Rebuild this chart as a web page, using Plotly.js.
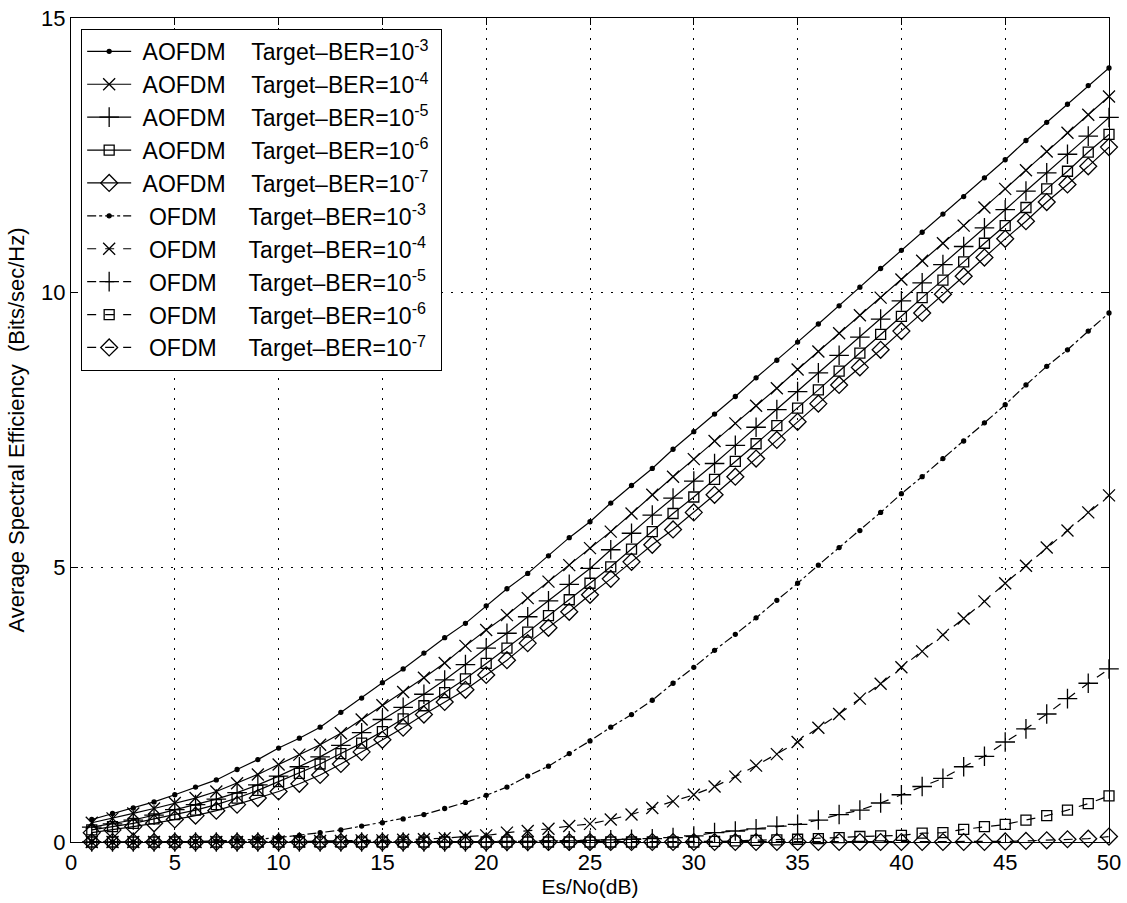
<!DOCTYPE html>
<html>
<head>
<meta charset="utf-8">
<script src="https://cdn.plot.ly/plotly-3.0.1.min.js"></script>
<style>html,body{margin:0;padding:0;background:#fff;}</style>
</head>
<body>
<div id="chart" style="width:1127px;height:903px;"></div>
<script>
const esno = [1,2,3,4,5,6,7,8,9,10,11,12,13,14,15,16,17,18,19,20,21,22,23,24,25,26,27,28,29,30,31,32,33,34,35,36,37,38,39,40,41,42,43,44,45,46,47,48,49,50];

const aofdm3 = [0.41,0.52,0.62,0.73,0.86,1.00,1.13,1.32,1.50,1.71,1.89,2.09,2.36,2.62,2.90,3.15,3.44,3.72,3.98,4.30,4.61,4.89,5.21,5.54,5.83,6.17,6.49,6.80,7.15,7.47,7.79,8.11,8.45,8.77,9.10,9.43,9.76,10.10,10.44,10.77,11.10,11.43,11.75,12.09,12.42,12.77,13.10,13.43,13.77,14.09];
const aofdm4 = [0.35,0.43,0.52,0.61,0.71,0.80,0.92,1.07,1.23,1.41,1.59,1.77,1.98,2.23,2.49,2.73,2.99,3.26,3.57,3.86,4.13,4.44,4.74,5.04,5.35,5.65,5.98,6.32,6.65,6.97,7.30,7.62,7.94,8.26,8.60,8.93,9.26,9.59,9.91,10.24,10.58,10.90,11.22,11.55,11.89,12.23,12.57,12.91,13.24,13.57];
const aofdm5 = [0.27,0.33,0.40,0.49,0.59,0.68,0.78,0.90,1.04,1.20,1.37,1.55,1.76,1.99,2.23,2.45,2.69,2.95,3.23,3.53,3.80,4.10,4.39,4.69,4.98,5.32,5.62,5.95,6.26,6.57,6.89,7.22,7.55,7.87,8.20,8.54,8.86,9.19,9.52,9.85,10.18,10.51,10.84,11.18,11.51,11.85,12.18,12.52,12.85,13.19];
const aofdm6 = [0.22,0.28,0.34,0.42,0.50,0.58,0.68,0.80,0.94,1.10,1.25,1.42,1.61,1.80,2.01,2.24,2.48,2.72,2.97,3.25,3.53,3.82,4.12,4.41,4.71,5.01,5.33,5.65,5.98,6.28,6.60,6.93,7.25,7.58,7.90,8.23,8.57,8.90,9.24,9.57,9.91,10.23,10.56,10.90,11.22,11.55,11.89,12.21,12.56,12.88];
const aofdm7 = [0.17,0.22,0.28,0.34,0.41,0.48,0.57,0.68,0.80,0.92,1.06,1.22,1.42,1.64,1.86,2.08,2.32,2.55,2.77,3.04,3.31,3.62,3.90,4.19,4.50,4.79,5.10,5.41,5.69,6.00,6.32,6.65,6.98,7.32,7.65,7.98,8.32,8.64,8.96,9.30,9.63,9.97,10.30,10.64,10.98,11.30,11.65,11.97,12.30,12.65];

const ofdm3 = [0,0,0,0,0.01,0.01,0.02,0.03,0.05,0.08,0.12,0.17,0.22,0.29,0.35,0.42,0.50,0.61,0.72,0.85,1.00,1.20,1.38,1.61,1.84,2.09,2.32,2.58,2.89,3.18,3.49,3.78,4.08,4.40,4.71,5.04,5.36,5.67,6.00,6.34,6.65,6.98,7.30,7.63,7.96,8.32,8.66,8.96,9.30,9.63];
const ofdm4 = [0,0,0,0,0,0,0,0,0.01,0.01,0.01,0.02,0.02,0.03,0.03,0.04,0.05,0.07,0.10,0.12,0.17,0.20,0.24,0.29,0.33,0.41,0.50,0.62,0.74,0.86,1.01,1.19,1.39,1.60,1.82,2.08,2.33,2.61,2.88,3.18,3.47,3.77,4.07,4.38,4.71,5.03,5.36,5.67,6.00,6.31];
const ofdm5 = [0,0,0,0,0,0,0,0,0,0,0,0,0,0,0,0,0,0,0,0,0.01,0.01,0.02,0.02,0.03,0.04,0.05,0.06,0.08,0.11,0.17,0.20,0.24,0.29,0.32,0.40,0.50,0.58,0.71,0.86,1.01,1.16,1.37,1.56,1.82,2.06,2.33,2.61,2.89,3.15];
const ofdm6 = [0,0,0,0,0,0,0,0,0,0,0,0,0,0,0,0,0,0,0,0,0,0,0,0,0,0,0,0,0,0,0.01,0.02,0.03,0.04,0.05,0.06,0.08,0.10,0.11,0.12,0.16,0.17,0.23,0.28,0.32,0.40,0.48,0.58,0.70,0.84];
const ofdm7 = [0,0,0,0,0,0,0,0,0,0,0,0,0,0,0,0,0,0,0,0,0,0,0,0,0,0,0,0,0,0,0,0,0,0,0,0,0,0,0,0,0,0,0,0,0.01,0.02,0.03,0.05,0.06,0.10];

const berExp = ['-3','-4','-5','-6','-7'];

const S = '&nbsp;';
function label(scheme, exp) {
  const pre = scheme === 'AOFDM'
    ? S + 'AOFDM' + S + S + S + S
    : S + S + 'OFDM' + S + S + S + S + S;
  return pre + 'Target\u2013BER=10<sup>' + exp + '</sup>' + S;
}

const markerDefs = [
  {symbol: 'circle', size: 4},
  {symbol: 'x-thin-open', size: 12},
  {symbol: 'cross-thin-open', size: 14},
  {symbol: 'square-open', size: 10},
  {symbol: 'diamond-open', size: 13}
];

const aSeries = [aofdm3, aofdm4, aofdm5, aofdm6, aofdm7];
const oSeries = [ofdm3, ofdm4, ofdm5, ofdm6, ofdm7];

const traces = [];
function mk(y, i, scheme, dash) {
  const m = markerDefs[i];
  return {
    x: esno, y: y, type: 'scatter', mode: 'lines+markers',
    name: label(scheme, berExp[i]),
    cliponaxis: false,
    line: {color: '#000', width: 1.2, dash: dash},
    marker: {symbol: m.symbol, size: m.size, color: '#000',
             line: {color: '#000', width: 1.3}}
  };
}
aSeries.forEach((y, i) => traces.push(mk(y, i, 'AOFDM', 'solid')));
oSeries.forEach((y, i) => traces.push(mk(y, i, 'OFDM', i === 0 ? 'dashdot' : 'dash')));

const fam = 'Liberation Sans, Arial, Helvetica, sans-serif';
const tickFont = {family: fam, size: 22, color: '#000'};
const xTitleFont = {family: fam, size: 21, color: '#000'};
const yTitleFont = {family: fam, size: 22, color: '#000'};
const legFont = {family: fam, size: 23, color: '#000'};

const layout = {
  width: 1127, height: 903,
  margin: {l: 71, r: 18, t: 18, b: 61},
  paper_bgcolor: '#fff', plot_bgcolor: '#fff',
  font: tickFont,
  showlegend: true,
  xaxis: {
    range: [0, 50], tickvals: [0,5,10,15,20,25,30,35,40,45,50],
    showgrid: true, gridcolor: '#000', griddash: '2px,8px', gridwidth: 1,
    zeroline: false, showline: true, linecolor: '#000', linewidth: 1.2, mirror: 'ticks',
    ticks: 'inside', ticklen: 7, tickcolor: '#000', tickfont: tickFont,
    title: {text: 'Es/No(dB)', font: xTitleFont, standoff: 2}
  },
  yaxis: {
    range: [0, 15], tickvals: [0,5,10,15],
    showgrid: true, gridcolor: '#000', griddash: '2px,8px', gridwidth: 1,
    zeroline: false, showline: true, linecolor: '#000', linewidth: 1.2, mirror: 'ticks',
    ticks: 'inside', ticklen: 7, tickcolor: '#000', tickfont: tickFont,
    title: {text: 'Average Spectral Efficiency  (Bits/sec/Hz)', font: yTitleFont, standoff: 10}
  },
  legend: {
    x: 0.0096, y: 0.987, xanchor: 'left', yanchor: 'top',
    bgcolor: '#fff', bordercolor: '#000', borderwidth: 1.2,
    font: legFont, itemwidth: 44, tracegroupgap: 0
  }
};

Plotly.newPlot('chart', traces, layout, {displayModeBar: false, staticPlot: true});
</script>
</body>
</html>
